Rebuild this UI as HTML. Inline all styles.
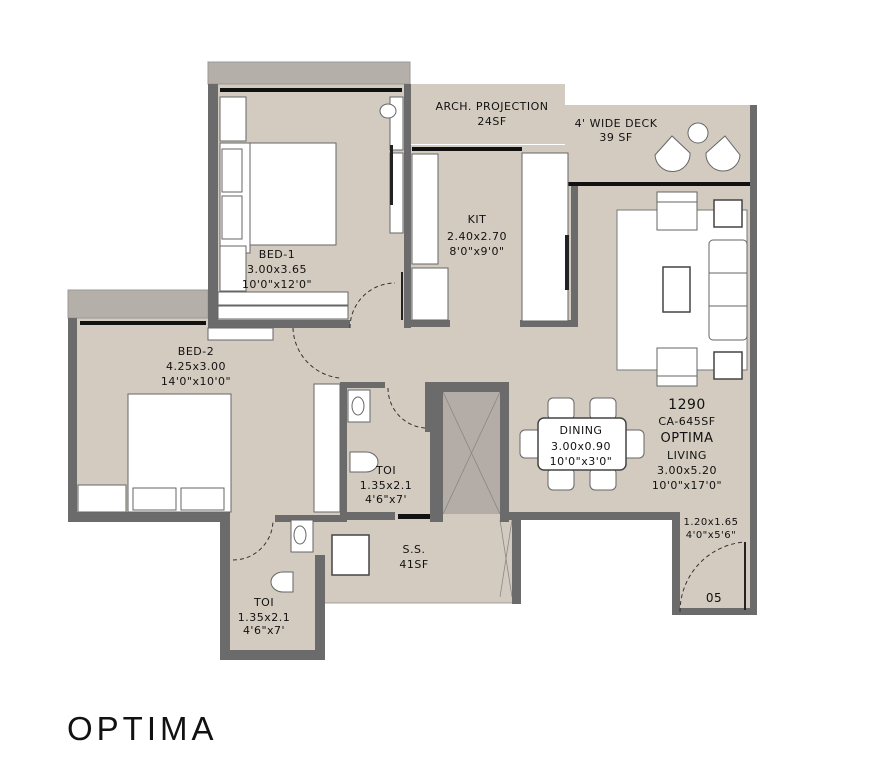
<!DOCTYPE html>
<html><head><meta charset="utf-8"><style>
html,body{margin:0;padding:0;background:#fff;}
svg{display:block;}
text{font-family:"DejaVu Sans","Liberation Sans",sans-serif;fill:#111;}
</style></head><body>
<svg width="869" height="776" viewBox="0 0 869 776" xmlns="http://www.w3.org/2000/svg">
<g fill="#d3cbc0">
<rect x="208" y="84" width="202" height="244"/>
<rect x="410" y="84" width="155" height="60"/>
<rect x="565" y="105" width="190" height="80"/>
<rect x="404" y="145" width="351" height="375"/>
<rect x="340" y="320" width="240" height="200"/>
<rect x="68" y="318" width="290" height="204"/>
<rect x="220" y="510" width="105" height="150"/>
<rect x="322" y="515" width="198" height="88"/>
<rect x="672" y="505" width="85" height="110"/>
</g>
<rect x="208" y="62" width="202" height="22" fill="#b5afaa" stroke="#999" stroke-width="1"/>
<rect x="68" y="290" width="140" height="28" fill="#b5afaa" stroke="#999" stroke-width="1"/>
<rect x="443" y="392" width="57" height="122" fill="#b3aca7"/>
<g stroke="#888" stroke-width="0.8" fill="none">
<line x1="443" y1="392" x2="500" y2="514"/><line x1="500" y1="392" x2="443" y2="514"/>
<line x1="500" y1="520" x2="512" y2="597"/><line x1="512" y1="520" x2="500" y2="597"/>
<line x1="322" y1="603" x2="512" y2="603"/>
</g>
<g fill="#6b6b6b">
<rect x="208" y="84" width="10" height="244"/>
<rect x="208" y="320" width="142" height="8"/>
<rect x="404" y="84" width="7" height="244"/>
<rect x="404" y="320" width="46" height="7"/>
<rect x="520" y="320" width="58" height="7"/>
<rect x="571" y="185" width="7" height="142"/>
<rect x="750" y="105" width="7" height="510"/>
<rect x="68" y="318" width="9" height="204"/>
<rect x="68" y="512" width="162" height="10"/>
<rect x="220" y="512" width="10" height="148"/>
<rect x="220" y="650" width="105" height="10"/>
<rect x="315" y="555" width="10" height="105"/>
<rect x="275" y="515" width="70" height="7"/>
<rect x="340" y="382" width="7" height="140"/>
<rect x="340" y="382" width="45" height="6"/>
<rect x="340" y="512" width="55" height="8"/>
<rect x="430" y="382" width="13" height="140"/>
<rect x="430" y="382" width="78" height="10"/>
<rect x="500" y="382" width="9" height="140"/>
<rect x="500" y="512" width="180" height="8"/>
<rect x="512" y="512" width="9" height="92"/>
<rect x="672" y="512" width="8" height="103"/>
<rect x="672" y="608" width="85" height="7"/>
<rect x="425" y="382" width="5" height="50"/>
</g>
<g fill="#111">
<rect x="220" y="88" width="182" height="4"/>
<rect x="412" y="147" width="110" height="4"/>
<rect x="568" y="182" width="182" height="4"/>
<rect x="80" y="321" width="126" height="4"/>
<rect x="398" y="514" width="32" height="5"/>
</g>
<g fill="#fff" stroke="#666" stroke-width="1">
<rect x="220" y="97" width="26" height="44"/>
<rect x="220" y="143" width="30" height="110"/>
<rect x="222" y="149" width="20" height="43"/>
<rect x="222" y="196" width="20" height="43"/>
<rect x="250" y="143" width="86" height="102"/>
<rect x="220" y="246" width="26" height="45"/>
<rect x="218" y="292" width="130" height="13"/>
<rect x="218" y="306" width="130" height="13"/>
<rect x="390" y="97" width="13" height="53"/>
<rect x="390" y="153" width="13" height="80"/>
<rect x="208" y="328" width="65" height="12"/>
<rect x="412" y="154" width="26" height="110"/>
<rect x="412" y="268" width="36" height="52"/>
<rect x="522" y="153" width="46" height="168"/>
<rect x="617" y="210" width="130" height="160" stroke="#777"/>
<rect x="657" y="192" width="40" height="38"/>
<rect x="657" y="348" width="40" height="38"/>
<rect x="714" y="200" width="28" height="27" stroke="#444" stroke-width="1.5"/>
<rect x="714" y="352" width="28" height="27" stroke="#444" stroke-width="1.5"/>
<rect x="709" y="240" width="38" height="100" rx="4"/>
<rect x="663" y="267" width="27" height="45" stroke="#444" stroke-width="1.5"/>
<rect x="78" y="485" width="48" height="27"/>
<rect x="128" y="394" width="103" height="118"/>
<rect x="133" y="488" width="43" height="22"/>
<rect x="181" y="488" width="43" height="22"/>
<rect x="314" y="384" width="26" height="128"/>
<rect x="348" y="390" width="22" height="32"/>
<rect x="291" y="520" width="22" height="32"/>
<rect x="332" y="535" width="37" height="40" stroke="#444" stroke-width="1.5"/>
<rect x="548" y="398" width="26" height="22" rx="5"/>
<rect x="590" y="398" width="26" height="22" rx="5"/>
<rect x="548" y="468" width="26" height="22" rx="5"/>
<rect x="590" y="468" width="26" height="22" rx="5"/>
<rect x="520" y="430" width="22" height="28" rx="5"/>
<rect x="622" y="430" width="22" height="28" rx="5"/>
<rect x="538" y="418" width="88" height="52" rx="6" stroke="#444" stroke-width="1.5"/>
<circle cx="698" cy="133" r="10"/>
<path d="M655,155 L672,136 L690,153 A17,17 0 1 1 655,155Z"/>
<path d="M706,153 L725,136 L740,155 A17,17 0 1 1 706,153Z"/>
<ellipse cx="388" cy="111" rx="8" ry="7"/>
<ellipse cx="358" cy="406" rx="6" ry="9"/>
<ellipse cx="300" cy="535" rx="6" ry="9"/>
<path d="M350,452 h16 a12,10 0 1 1 0,20 h-16z"/>
<path d="M293,572 h-10 a12,10 0 1 0 0,20 h10z"/>
</g>
<g stroke="#666" stroke-width="1">
<line x1="709" y1="273" x2="747" y2="273"/><line x1="709" y1="306" x2="747" y2="306"/>
<line x1="657" y1="202" x2="697" y2="202"/><line x1="657" y1="376" x2="697" y2="376"/>
</g>
<g fill="none" stroke="#333" stroke-width="1" stroke-dasharray="4,3">
<path d="M350,328 A45,45 0 0 1 395,283"/>
<path d="M293,328 A52,52 0 0 0 340,378"/>
<path d="M388,388 A40,40 0 0 0 425,428"/>
<path d="M233,560 A40,40 0 0 0 273,520"/>
<path d="M680,612 A70,70 0 0 1 745,542"/>
</g>
<g fill="#222">
<rect x="401" y="272" width="2" height="48"/>
<rect x="744" y="542" width="2" height="68"/>
<rect x="565" y="235" width="4" height="55"/>
<rect x="390" y="145" width="3" height="60"/>
</g>
<g font-size="11" text-anchor="middle" letter-spacing="0.5">
<text x="277" y="258">BED-1</text><text x="277" y="273">3.00x3.65</text><text x="277" y="288">10'0"x12'0"</text>
<text x="492" y="110">ARCH. PROJECTION</text><text x="492" y="125">24SF</text>
<text x="616" y="127">4' WIDE DECK</text><text x="616" y="141">39 SF</text>
<text x="477" y="223">KIT</text><text x="477" y="240">2.40x2.70</text><text x="477" y="255">8'0"x9'0"</text>
<text x="196" y="355">BED-2</text><text x="196" y="370">4.25x3.00</text><text x="196" y="385">14'0"x10'0"</text>
<text x="386" y="474">TOI</text><text x="386" y="489">1.35x2.1</text><text x="386" y="503">4'6"x7'</text>
<text x="264" y="606">TOI</text><text x="264" y="621">1.35x2.1</text><text x="264" y="634">4'6"x7'</text>
<text x="414" y="553">S.S.</text><text x="414" y="568">41SF</text>
<text x="581" y="434">DINING</text><text x="581" y="450">3.00x0.90</text><text x="581" y="465">10'0"x3'0"</text>
<text x="687" y="409" font-size="14">1290</text>
<text x="687" y="425">CA-645SF</text>
<text x="687" y="442" font-size="13">OPTIMA</text>
<text x="687" y="459">LIVING</text><text x="687" y="474">3.00x5.20</text><text x="687" y="489">10'0"x17'0"</text>
<text x="711" y="525" font-size="10">1.20x1.65</text><text x="711" y="538" font-size="10">4'0"x5'6"</text>
<text x="714" y="602" font-size="12">05</text>
</g>
<text x="67" y="740" font-size="33" letter-spacing="4" style="font-family:'Liberation Sans',sans-serif;fill:#111">OPTIMA</text>
</svg>
</body></html>
